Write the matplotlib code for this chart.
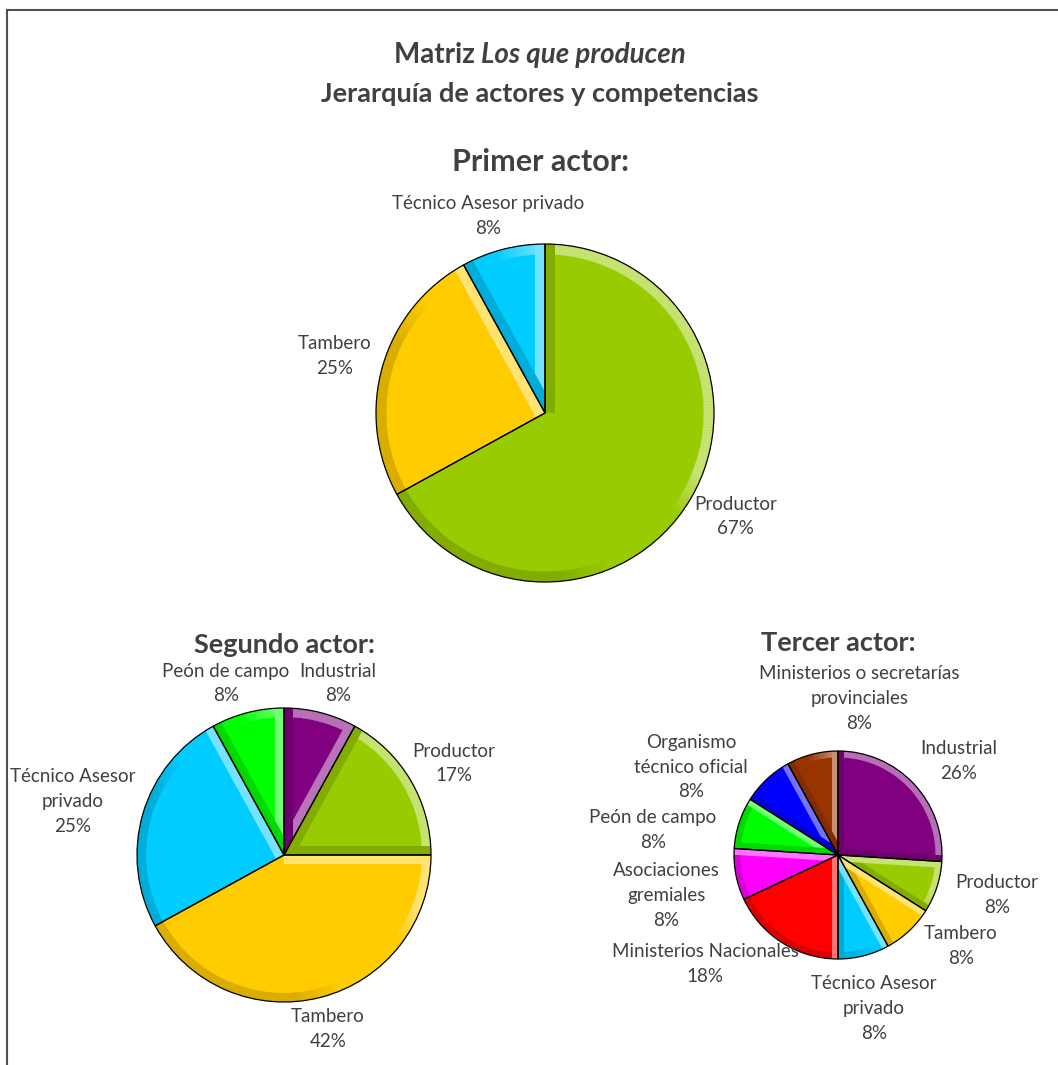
import numpy as np
import matplotlib
matplotlib.use('Agg')
import matplotlib.pyplot as plt
from matplotlib.patches import Wedge, Polygon
from matplotlib.lines import Line2D
from matplotlib.colors import to_rgb

plt.rcParams['font.family'] = ['Lato', 'DejaVu Sans']

W, H = 1058, 1065
TXT = '#404040'

# datos
primer_labels = ['Productor', 'Tambero', 'Técnico Asesor privado']
primer_pct = [67, 25, 8]
primer_colors = ['#99CC00', '#FFCC00', '#00CCFF']

segundo_labels = ['Industrial', 'Productor', 'Tambero',
                  'Técnico Asesor\nprivado', 'Peón de campo']
segundo_pct = [8, 17, 42, 25, 8]
segundo_colors = ['#800080', '#99CC00', '#FFCC00', '#00CCFF', '#00FF00']

tercer_labels = ['Industrial', 'Productor', 'Tambero', 'Técnico Asesor\nprivado',
                 'Ministerios Nacionales', 'Asociaciones\ngremiales', 'Peón de campo',
                 'Organismo\ntécnico oficial', 'Ministerios o secretarías\nprovinciales']
tercer_pct = [26, 8, 8, 8, 18, 8, 8, 8, 8]
tercer_colors = ['#800080', '#99CC00', '#FFCC00', '#00CCFF', '#FF0000',
                 '#FF00FF', '#00FF00', '#0000FF', '#993300']

LIGHT_DIR = 35


def shade(c, f):
    r = np.array(to_rgb(c))
    if f > 0:
        return tuple(r + (1 - r) * f)
    return tuple(r * (1 + f))


def bevel(ax, wd, color, bw=0.06):
    t1, t2 = wd.theta1, wd.theta2
    # borde exterior, sombreado suave segun la direccion de la luz
    n = max(int(t2 - t1), 2)
    steps = np.linspace(t1, t2, n + 1)
    for a, b in zip(steps[:-1], steps[1:]):
        s = np.cos(np.radians((a + b) / 2 - LIGHT_DIR))
        if s > 0.3:
            c = shade(color, 0.45 * min(1, (s - 0.3) / 0.25))
        elif s < -0.2:
            c = shade(color, -0.15 * min(1, (-s - 0.2) / 0.3))
        else:
            continue
        p = Wedge((0, 0), 1, a, b, width=bw, facecolor=c, edgecolor=c,
                  linewidth=0.3, zorder=2)
        ax.add_patch(p)
        p.set_clip_path(wd)
    # bordes radiales
    for ang, nrm in ((t1, t1 - 90), (t2, t2 + 90)):
        s = np.cos(np.radians(nrm - LIGHT_DIR))
        if -0.3 < s < 0.4:
            continue
        u = np.array([np.cos(np.radians(ang)), np.sin(np.radians(ang))])
        n_in = -np.array([np.cos(np.radians(nrm)), np.sin(np.radians(nrm))])
        pts = [(0, 0), u, u + bw * n_in, bw * n_in]
        c = shade(color, 0.45) if s > 0 else shade(color, -0.15)
        p = Polygon(pts, closed=True, facecolor=c, edgecolor='none', zorder=2)
        ax.add_patch(p)
        p.set_clip_path(wd)


def draw_pie(cx, cy, R, values, colors, labels, fs, gap):
    half = R * 1.1
    ax = fig.add_axes([(cx - half) / W, 1 - (cy + half) / H, 2 * half / W, 2 * half / H])
    wedges, _ = ax.pie(values, colors=colors, startangle=90, counterclock=False,
                       wedgeprops=dict(edgecolor='none', linewidth=0))
    ax.set_xlim(-half / R, half / R)
    ax.set_ylim(-half / R, half / R)
    ax.set_aspect('equal')
    ax.axis('off')
    for wd, c in zip(wedges, colors):
        bevel(ax, wd, c)
        ax.add_patch(Wedge((0, 0), 1, wd.theta1, wd.theta2, fill=False,
                           edgecolor='black', linewidth=0.9, zorder=3))
    renderer = fig.canvas.get_renderer()
    texts, angles = [], []
    for wd, lab, v in zip(wedges, labels, values):
        texts.append(ax.text(0, 0, f'{lab}\n{v}%', ha='center', va='center',
                             multialignment='center', fontsize=fs, color=TXT,
                             linespacing=1.55, clip_on=False))
        angles.append((wd.theta1 + wd.theta2) / 2)

    def place(i):
        mid = np.radians(angles[i])
        x0, y0 = gap * np.cos(mid), gap * np.sin(mid)
        bb = texts[i].get_window_extent(renderer)
        w, h = bb.width / R, bb.height / R
        c = np.cos(mid)
        texts[i].set_position((x0 + np.sign(c) * abs(c) ** 1.5 * w / 2,
                               y0 + np.sin(mid) * h / 2))

    for i in range(len(texts)):
        place(i)
    # separar etiquetas que se pisan
    for _ in range(80):
        bbs = [t.get_window_extent(renderer).padded(4) for t in texts]
        moved = False
        for i in range(len(texts)):
            for j in range(i + 1, len(texts)):
                if bbs[i].overlaps(bbs[j]):
                    d = ((angles[j] - angles[i] + 180) % 360) - 180
                    s = 1.0 if d > 0 else -1.0
                    angles[j] += s
                    angles[i] -= s
                    moved = True
        if not moved:
            break
        for i in range(len(texts)):
            place(i)
    return ax


fig = plt.figure(figsize=(W / 100, H / 100), dpi=100)

# marco
fig.add_artist(Line2D([7 / W, 1], [1 - 10 / H, 1 - 10 / H], color='#505050', lw=1.5))
fig.add_artist(Line2D([7 / W, 7 / W], [0, 1 - 10 / H], color='#505050', lw=1.5))

renderer = fig.canvas.get_renderer()
# titulo con parte en cursiva
t1 = fig.text(0, 1 - 63 / H, 'Matriz ', fontsize=20, fontweight='bold', color=TXT, va='baseline')
t2 = fig.text(0, 1 - 63 / H, 'Los que producen', fontsize=20, fontweight='bold',
              fontstyle='italic', color=TXT, va='baseline')
w1 = t1.get_window_extent(renderer).width
w2 = t2.get_window_extent(renderer).width
x0 = 540 - (w1 + w2) / 2
t1.set_x(x0 / W)
t2.set_x((x0 + w1) / W)
fig.text(540 / W, 1 - 102 / H, 'Jerarquía de actores y competencias', fontsize=19.5,
         fontweight='bold', color=TXT, ha='center', va='baseline')

fig.text(540 / W, 1 - 171 / H, 'Primer actor:', fontsize=22, fontweight='bold',
         color=TXT, ha='center', va='baseline')
fig.text(285 / W, 1 - 653 / H, 'Segundo actor:', fontsize=19.5, fontweight='bold',
         color=TXT, ha='center', va='baseline')
fig.text(838 / W, 1 - 651 / H, 'Tercer actor:', fontsize=19.5, fontweight='bold',
         color=TXT, ha='center', va='baseline')

draw_pie(545, 413, 169, primer_pct, primer_colors, primer_labels, 13.5, 1.08)
draw_pie(284, 855, 147, segundo_pct, segundo_colors, segundo_labels, 13.5, 1.08)
draw_pie(838, 855, 104, tercer_pct, tercer_colors, tercer_labels, 13.5, 1.2)

fig.savefig('out.png', dpi=100)
